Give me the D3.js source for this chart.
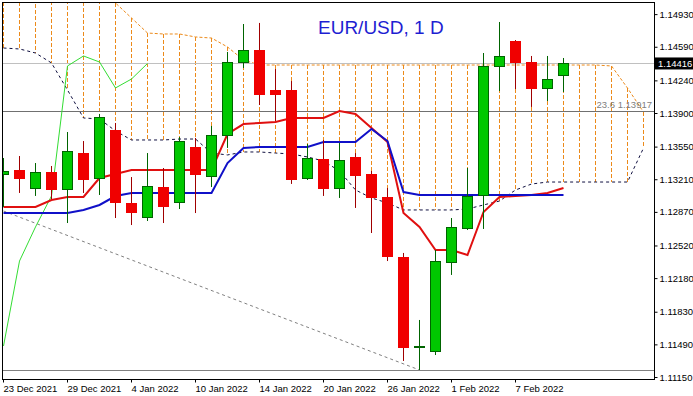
<!DOCTYPE html>
<html>
<head>
<meta charset="utf-8">
<script src="https://cdn.jsdelivr.net/npm/d3@7"></script>
<style>
body { margin:0; background:#fff; }
svg text { font-family:"Liberation Sans", Arial, sans-serif; }
</style>
</head>
<body>
<div id="chart"></div>
<script>

// daily bars, EUR/USD
var dates = ["23 Dec 2021","24 Dec 2021","27 Dec 2021","28 Dec 2021","29 Dec 2021","30 Dec 2021","31 Dec 2021",
  "3 Jan 2022","4 Jan 2022","5 Jan 2022","6 Jan 2022","7 Jan 2022","10 Jan 2022","11 Jan 2022","12 Jan 2022",
  "13 Jan 2022","14 Jan 2022","17 Jan 2022","18 Jan 2022","19 Jan 2022","20 Jan 2022","21 Jan 2022","24 Jan 2022",
  "25 Jan 2022","26 Jan 2022","27 Jan 2022","28 Jan 2022","31 Jan 2022","1 Feb 2022","2 Feb 2022","3 Feb 2022",
  "4 Feb 2022","7 Feb 2022","8 Feb 2022","9 Feb 2022","10 Feb 2022"]

var open = [1.13265,1.13306,1.13119,1.13285,1.13108,1.13483,1.13223,1.13723,1.12963,1.12817,1.13129,1.12973,
  1.13546,1.13244,1.13671,1.14431,1.14556,1.14140,1.14140,1.13223,1.13421,1.13119,1.13442,1.13265,1.13025,
  1.12400,1.11463,1.11421,1.12348,1.12702,1.13046,1.14390,1.14650,1.14431,1.14161,1.14286]
var high = [1.13431,1.13452,1.13379,1.13348,1.13702,1.13608,1.13890,1.13796,1.13233,1.13483,1.13327,1.13650,
  1.13640,1.13765,1.14536,1.14827,1.14838,1.14358,1.14233,1.13577,1.13619,1.13588,1.13483,1.13296,1.13119,
  1.12442,1.11744,1.12473,1.12806,1.13327,1.14525,1.14848,1.14660,1.14494,1.14494,1.14473]
var low = [1.12921,1.13067,1.13036,1.13004,1.12754,1.13067,1.13046,1.12806,1.12733,1.12775,1.12754,1.12900,
  1.12858,1.13129,1.13536,1.14369,1.13983,1.13817,1.13161,1.13202,1.13036,1.13015,1.12911,1.12650,1.12358,
  1.11317,1.11223,1.11379,1.12213,1.12681,1.12692,1.14129,1.14150,1.13963,1.14025,1.14119]
var close = [1.13296,1.13223,1.13285,1.13108,1.13504,1.13213,1.13858,1.12973,1.12869,1.13140,1.12931,1.13608,
  1.13265,1.13671,1.14431,1.14556,1.14098,1.14098,1.13213,1.13431,1.13119,1.13411,1.13254,1.13025,1.12411,
  1.11463,1.11473,1.12358,1.12713,1.13036,1.14390,1.14494,1.14431,1.14161,1.14254,1.14416]

// ichimoku lines
var tenkan = [1.12921,1.12921,1.12921,1.12994,1.13025,1.13025,1.13223,1.13265,1.13306,1.13306,1.13306,1.13306,
  1.13306,1.13306,1.13681,1.13785,1.13796,1.13806,1.13848,1.13848,1.13848,1.13921,1.13890,1.13744,1.13598,
  1.12858,1.12713,1.12473,1.12473,1.12421,1.12869,1.13025,1.13035,1.13046,1.13067,1.13119]
var kijun = [1.12858,1.12858,1.12858,1.12858,1.12858,1.12890,1.12942,1.13035,1.13067,1.13067,1.13067,1.13067,
  1.13067,1.13067,1.13379,1.13535,1.13546,1.13546,1.13546,1.13546,1.13598,1.13598,1.13598,1.13733,1.13608,
  1.13077,1.13046,1.13046,1.13046,1.13046,1.13046,1.13046,1.13046,1.13046,1.13046,1.13046]
var senkouA = [1.15494,1.15494,1.15473,1.15442,1.15390,1.15306,1.15202,1.15046,1.14890,1.14733,1.14723,1.14723,
  1.14692,1.14681,1.14588,1.14452,1.14400,1.14400,1.14400,1.14400,1.14400,1.14400,1.14400,1.14400,1.14400,
  1.14400,1.14400,1.14400,1.14400,1.14400,1.14400,1.14400,1.14400,1.14400,1.14400,1.14400,1.14400,1.14400,
  1.14390,1.14160,1.13910]
var senkouB = [1.14577,1.14567,1.14525,1.14421,1.14140,1.13848,1.13838,1.13713,1.13619,1.13619,1.13619,1.13629,
  1.13629,1.13483,1.13463,1.13494,1.13494,1.13483,1.13473,1.13442,1.13400,1.13296,1.13098,1.13015,1.12963,
  1.12890,1.12890,1.12890,1.12890,1.12900,1.12942,1.12983,1.13098,1.13160,1.13181,1.13181,1.13181,1.13181,
  1.13181,1.13181,1.13535]

var yTicks = [1.14930,1.14590,1.14240,1.13900,1.13550,1.13210,1.12870,1.12520,1.12180,1.11830,1.11490,1.11150]
var fibLevel = 1.13917
var fibLabel = "23.6"
var lowLine = 1.11223
var fibDiag = [[0, 1.12879], [26, 1.11223]]
var shiftBack = 26

var w = 693, h = 396
var pl = 3, pr = 654, pt = 2, pb = 379

var x = d3.scaleLinear().domain([0, 40]).range([3, 643])
var y = d3.scaleLinear().domain([1.1115, 1.1493]).range([377, 14.12])

var svg = d3.select("#chart").append("svg")
  .attr("width", w)
  .attr("height", h)

svg.append("clipPath").attr("id", "plot")
  .append("rect").attr("x", pl).attr("y", pt + 1).attr("width", pr - pl).attr("height", pb - pt - 1)

var g = svg.append("g").attr("clip-path", "url(#plot)")

var px = function(i) { return x(i) + 0.5 }

// cloud: dashed verticals between the spans
g.selectAll(".cloud")
  .data(senkouA)
  .enter().append("line")
  .attr("x1", function(d, i) { return px(i) })
  .attr("x2", function(d, i) { return px(i) })
  .attr("y1", function(d) { return y(d) })
  .attr("y2", function(d, i) { return y(senkouB[i]) })
  .attr("stroke", "#ec8a1a")
  .attr("stroke-width", 1)
  .attr("shape-rendering", "crispEdges")
  .attr("stroke-dasharray", "4,2")

var line = d3.line()
  .x(function(d, i) { return px(i) })
  .y(function(d) { return y(d) })

g.append("path").datum(senkouA)
  .attr("d", line).attr("fill", "none")
  .attr("stroke", "#ec8a1a").attr("stroke-dasharray", "3,2")
g.append("path").datum(senkouB)
  .attr("d", line).attr("fill", "none")
  .attr("stroke", "#101040").attr("stroke-dasharray", "3,3")

// horizontal levels
var bid = close[close.length - 1]
g.append("line").attr("x1", pl).attr("x2", pr)
  .attr("y1", Math.round(y(bid)) + 0.5).attr("y2", Math.round(y(bid)) + 0.5)
  .attr("stroke", "#c0c0c0")
g.append("line").attr("x1", pl).attr("x2", pr)
  .attr("y1", Math.round(y(fibLevel)) + 0.5).attr("y2", Math.round(y(fibLevel)) + 0.5)
  .attr("stroke", "#707070")
g.append("line").attr("x1", pl).attr("x2", pr)
  .attr("y1", Math.round(y(lowLine)) + 0.5).attr("y2", Math.round(y(lowLine)) + 0.5)
  .attr("stroke", "#808080")

g.append("line")
  .attr("x1", px(fibDiag[0][0])).attr("y1", y(fibDiag[0][1]))
  .attr("x2", px(fibDiag[1][0])).attr("y2", y(fibDiag[1][1]))
  .attr("stroke", "#808080").attr("stroke-dasharray", "3,3")

g.append("text")
  .attr("x", pr - 2).attr("y", y(fibLevel) - 3)
  .attr("text-anchor", "end")
  .attr("font-size", "9.5px")
  .attr("fill", "#808080")
  .text(fibLabel + " " + fibLevel.toFixed(5))

// chikou = close shifted back
var chikou = close.slice(shiftBack)
g.append("path").datum(chikou)
  .attr("d", line).attr("fill", "none")
  .attr("stroke", "#33dd33").attr("stroke-width", 1)

g.append("path").datum(tenkan)
  .attr("d", line).attr("fill", "none")
  .attr("stroke", "#e01010").attr("stroke-width", 2)
g.append("path").datum(kijun)
  .attr("d", line).attr("fill", "none")
  .attr("stroke", "#1010c8").attr("stroke-width", 2)

// candles
var candles = g.selectAll(".candle")
  .data(d3.range(open.length))
  .enter().append("g")
  .attr("class", "candle")

candles.append("line")
  .attr("x1", function(i) { return px(i) })
  .attr("x2", function(i) { return px(i) })
  .attr("y1", function(i) { return y(high[i]) })
  .attr("y2", function(i) { return y(low[i]) })
  .attr("stroke", function(i) { return close[i] >= open[i] ? "#006400" : "#a00000" })

candles.append("rect")
  .attr("x", function(i) { return x(i) - 4.5 })
  .attr("width", 10)
  .attr("y", function(i) { return Math.round(y(Math.max(open[i], close[i]))) + 0.5 })
  .attr("height", function(i) { return Math.max(0.01, Math.round(Math.abs(y(open[i]) - y(close[i])))) })
  .attr("fill", function(i) { return close[i] >= open[i] ? "#00c800" : "#f00000" })
  .attr("stroke", function(i) { return close[i] >= open[i] ? "#006400" : "#f00000" })

// frame
svg.append("rect")
  .attr("x", pl - 0.5).attr("y", pt + 0.5)
  .attr("width", pr - pl + 1).attr("height", pb - pt)
  .attr("fill", "none").attr("stroke", "#000")

svg.append("text")
  .attr("x", 318).attr("y", 34)
  .attr("font-size", "19px")
  .attr("fill", "#1e1ed2")
  .text("EUR/USD, 1 D")

// axes
var yAxis = svg.append("g")
  .attr("transform", "translate(" + (pr + 0.5) + ",0)")
  .call(d3.axisRight(y).tickValues(yTicks).tickSize(3).tickPadding(2).tickFormat(d3.format(".5f")))
yAxis.select(".domain").remove()
yAxis.selectAll("text").attr("font-size", "9.5px").attr("fill", "#000").attr("font-family", null)

var xAxis = svg.append("g")
  .attr("transform", "translate(0," + (pb + 0.5) + ")")
  .call(d3.axisBottom(x).tickValues(d3.range(0, open.length, 4)).tickSize(3).tickPadding(3)
    .tickFormat(function(i) { return dates[i] }))
xAxis.select(".domain").remove()
xAxis.selectAll(".tick").attr("transform", function(i) { return "translate(" + px(i) + ",0)" })
xAxis.selectAll("text").attr("text-anchor", "start").attr("dx", "0").attr("x", 0)
  .attr("font-size", "9.5px").attr("fill", "#000").attr("font-family", null)

// current price label
svg.append("rect")
  .attr("x", pr + 1).attr("y", y(bid) - 6)
  .attr("width", w - pr - 1).attr("height", 12)
  .attr("fill", "#000")
svg.append("text")
  .attr("x", pr + 4).attr("y", y(bid) + 3.5)
  .attr("font-size", "9.5px")
  .attr("fill", "#fff")
  .text(bid.toFixed(5))

</script>
</body>
</html>
